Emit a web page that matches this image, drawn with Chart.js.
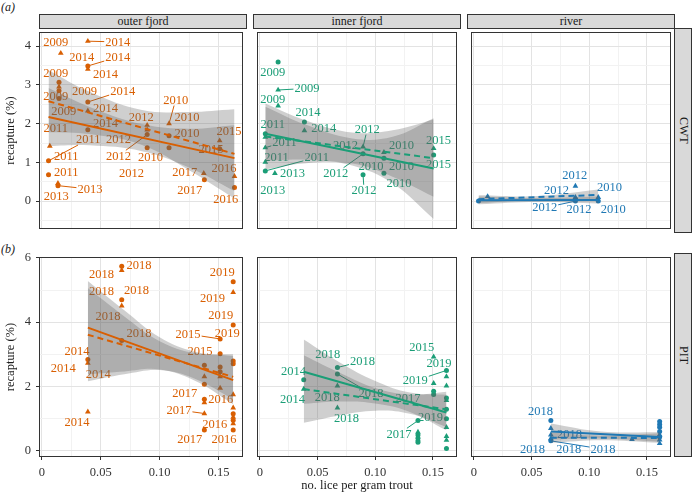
<!DOCTYPE html>
<html>
<head>
<meta charset="utf-8">
<title>recapture vs lice</title>
<script src="https://cdn.jsdelivr.net/npm/chart.js@4.4.0/dist/chart.umd.min.js"></script>
<style>
body { margin:0; background:#fff; width:695px; height:493px; position:relative; overflow:hidden; font-family:"Liberation Serif", serif; }
.cv { position:absolute; }
.strip { position:absolute; background:#d9d9d9; border:1px solid #333; box-sizing:border-box; font-size:12px; color:#1a1a1a;
         display:flex; align-items:center; justify-content:center; }
.vert { writing-mode:vertical-rl; }
.tag { position:absolute; font-size:12px; font-style:italic; color:#1a1a1a; }
</style>
</head>
<body>

<div class="tag" style="left:1px;top:0px">(<i>a</i>)</div>
<div class="tag" style="left:1px;top:242px">(<i>b</i>)</div>

<div class="strip" style="left:39px;top:14px;width:208px;height:15px">outer fjord</div>
<div class="strip" style="left:253px;top:14px;width:208px;height:15px">inner fjord</div>
<div class="strip" style="left:467px;top:14px;width:208px;height:15px">river</div>
<div class="strip" style="left:674px;top:28px;width:18px;height:205px"><span class="vert">CWT</span></div>
<div class="strip" style="left:674px;top:253px;width:18px;height:204px"><span class="vert">PIT</span></div>

<script>
// axis ticks
var xMajor = [0, 0.05, 0.10, 0.15];
var xTickLabels = ['0', '0.05', '0.10', '0.15'];
var xMinor = [0.025, 0.075, 0.125];
var yMajorCwt = [0, 1, 2, 3, 4];
var yMinorCwt = [-0.5, 0.5, 1.5, 2.5, 3.5];
var yMajorPit = [0, 2, 4, 6];
var yMinorPit = [1, 3, 5];

// ---- outer fjord, CWT ----
var outerCwtCircles = [[0.0056,1.04],[0.0056,0.68],[0.0145,3.07],[0.0145,2.85],[0.0145,2.65],[0.0136,0.40],
  [0.039,3.49],[0.039,2.56],[0.039,1.84],[0.0894,1.72],[0.0894,1.38],[0.108,1.69],[0.108,1.38],
  [0.138,0.55],[0.151,1.35],[0.1636,0.35]];
var outerCwtTriangles = [[0.0067,1.42],[0.016,3.82],[0.0145,2.95],[0.0136,0.46],[0.039,4.13],[0.039,3.41],
  [0.039,2.33],[0.0894,1.96],[0.0894,1.84],[0.108,2.0],[0.1375,0.72],[0.151,1.56],[0.1636,0.64]];
var outerCwtSolid = [[0.0056,2.17],[0.1636,1.11]];
var outerCwtDashed = [[0.0056,2.58],[0.1636,1.22]];
var outerCwtBandS = [[0.0056,1.42,2.92],[0.04,1.44,2.44],[0.085,1.29,1.99],[0.125,0.87,1.87],[0.1636,0.26,1.96]];
var outerCwtBandD = [[0.0056,1.78,3.38],[0.04,1.73,2.83],[0.085,1.45,2.35],[0.125,0.80,2.30],[0.1636,0.07,2.37]];
var outerCwtLabels = [
  ['2009',0.0117,4.11],['2014',0.0644,4.11,0.039,4.13],['2014',0.0339,3.72],['2014',0.0644,3.72,0.039,3.49],
  ['2014',0.054,3.28],['2009',0.0117,3.30],['2009',0.0361,2.85],['2014',0.0686,2.85,0.039,2.56],
  ['2009',0.0117,2.72],['2014',0.054,2.41],['2009',0.0186,2.33],['2014',0.054,2.0],['2011',0.0117,1.89],
  ['2012',0.0844,2.17],['2010',0.1136,2.61,0.108,2.0],['2010',0.1233,2.17],['2012',0.065,1.59],
  ['2011',0.0394,1.59,0.0056,1.04],['2010',0.1233,1.75],['2012',0.065,1.17,0.0894,1.72],['2010',0.0922,1.13],
  ['2011',0.0206,1.16],['2012',0.0761,0.72],['2011',0.0206,0.74],['2013',0.0408,0.31,0.0136,0.40],
  ['2013',0.0122,0.12],['2015',0.159,1.80],['2015',0.1436,1.33],['2017',0.1214,0.74],['2017',0.1256,0.28],
  ['2016',0.1547,0.86],['2016',0.1561,0.06]];

// ---- inner fjord, CWT ----
var innerCwtCircles = [[0.0158,3.59],[0.0047,1.74],[0.0047,0.78],[0.0386,2.04],[0.0894,1.22],[0.0894,0.68],
  [0.1075,1.11],[0.1075,0.72],[0.1506,1.19]];
var innerCwtTriangles = [[0.0158,2.87],[0.0158,2.46],[0.0047,1.65],[0.0047,1.38],[0.0047,1.01],[0.013,0.72],
  [0.0386,1.82],[0.0894,1.40],[0.1075,1.26],[0.1506,1.36]];
var innerCwtSolid = [[0.0047,1.74],[0.1506,0.84]];
var innerCwtDashed = [[0.0047,1.67],[0.1506,1.11]];
var innerCwtBandS = [[0.0047,1.04,2.44],[0.04,1.07,1.97],[0.08,0.92,1.62],[0.115,0.46,1.66],[0.1506,-0.46,2.14]];
var innerCwtBandD = [[0.0047,0.82,2.52],[0.04,0.98,2.08],[0.08,0.97,1.77],[0.115,0.63,1.83],[0.1506,0.11,2.11]];
var innerCwtLabels = [
  ['2009',0.0111,3.34],['2009',0.0408,2.91,0.0158,2.87],['2009',0.0111,2.64],['2014',0.0417,2.29],
  ['2011',0.0111,1.98],['2014',0.0553,1.88],['2012',0.0931,1.86,0.0894,1.40],['2011',0.0214,1.53,0.0047,1.38],
  ['2012',0.0742,1.45],['2010',0.1228,1.45],['2015',0.1547,1.57],['2011',0.0144,1.13],
  ['2011',0.0492,1.13,0.0047,0.78],['2010',0.0964,0.89],['2010',0.1228,0.89],['2015',0.1547,0.95],
  ['2013',0.0283,0.72],['2012',0.0658,0.72,0.0894,1.22],['2010',0.1206,0.47],['2013',0.0111,0.28],
  ['2012',0.0903,0.28,0.0894,0.68]];

// ---- river, CWT ----
var riverCwtCircles = [[0.004,0.0],[0.088,0.05],[0.088,0.0],[0.1078,0.0]];
var riverCwtTriangles = [[0.0119,0.12],[0.088,0.39],[0.088,0.10],[0.1078,0.10]];
var riverCwtSolid = [[0.004,0.02],[0.1078,0.03]];
var riverCwtDashed = [[0.004,0.05],[0.1078,0.16]];
var riverCwtBandS = [[0.004,-0.08,0.12],[0.055,-0.02,0.08],[0.1078,-0.06,0.12]];
var riverCwtBandD = [[0.004,-0.05,0.15],[0.055,0.03,0.13],[0.1078,0.02,0.30]];
var riverCwtLabels = [
  ['2012',0.0875,0.66],['2012',0.0717,0.28],['2010',0.1175,0.35],['2012',0.0614,-0.17,0.088,0.0],
  ['2012',0.0911,-0.21],['2010',0.1208,-0.21]];

// ---- outer fjord, PIT ----
var outerPitCircles = [[0.0678,5.74],[0.0678,4.70],[0.0678,3.43],[0.039,2.84],[0.138,2.66],[0.138,2.07],
  [0.138,1.60],[0.138,0.65],[0.1514,3.48],[0.1514,3.02],[0.1514,2.61],[0.1514,2.46],[0.1625,5.26],
  [0.1625,3.91],[0.1625,2.79],[0.1625,2.71],[0.1625,1.15],[0.1625,0.95],[0.1625,0.65]];
var outerPitTriangles = [[0.0678,5.61],[0.0678,4.51],[0.039,2.73],[0.039,1.21],[0.138,2.31],[0.138,1.50],
  [0.138,1.16],[0.1514,2.31],[0.1514,1.95],[0.1625,4.93],[0.1625,1.75],[0.1625,1.34],[0.1625,1.05],[0.1625,0.85]];
var outerPitSolid = [[0.039,3.83],[0.1625,2.20]];
var outerPitDashed = [[0.039,3.61],[0.1625,2.30]];
var outerPitBandS = [[0.039,2.38,5.28],[0.07,2.47,4.37],[0.1,2.53,3.53],[0.13,2.18,3.08],[0.1625,1.45,2.95]];
var outerPitBandD = [[0.039,2.16,5.06],[0.07,2.38,4.18],[0.1,2.51,3.41],[0.13,2.24,3.04],[0.1625,1.60,3.00]];
var outerPitLabels = [
  ['2018',0.0825,5.76],['2018',0.0506,5.48],['2018',0.0506,4.95],['2018',0.0803,4.98],['2019',0.1533,5.56],
  ['2019',0.145,4.75],['2019',0.1519,4.22],['2018',0.0561,4.19],['2018',0.0825,3.66],
  ['2015',0.1242,3.63,0.1514,3.48],['2019',0.1575,3.65],['2014',0.0297,3.09],['2015',0.1344,3.10],
  ['2014',0.0181,2.58],['2014',0.0478,2.39],['2017',0.1214,1.78],['2016',0.1519,1.62],
  ['2017',0.1164,1.27,0.138,1.16],['2014',0.0297,0.88],['2016',0.1469,0.83],['2017',0.1256,0.35],
  ['2016',0.1547,0.36]];

// ---- inner fjord, PIT ----
var innerPitCircles = [[0.038,2.21],[0.0672,2.59],[0.0672,2.39],[0.137,0.94],[0.137,0.49],[0.137,0.39],
  [0.137,0.27],[0.1506,1.85],[0.1506,1.75],[0.1617,2.50],[0.1617,1.64],[0.1617,1.29],[0.1617,1.00],[0.1617,0.07]];
var innerPitTriangles = [[0.038,1.92],[0.0672,2.02],[0.0672,1.34],[0.137,0.58],[0.137,0.35],[0.1506,2.92],
  [0.1506,2.10],[0.1617,2.31],[0.1617,2.02],[0.1617,1.57],[0.1617,0.73],[0.1617,0.45],[0.1617,0.33]];
var innerPitSolid = [[0.038,2.46],[0.1617,1.19]];
var innerPitDashed = [[0.038,1.92],[0.1617,1.29]];
var innerPitBandS = [[0.038,1.46,3.46],[0.07,1.53,2.73],[0.1,1.47,2.17],[0.13,1.21,1.81],[0.1617,0.64,1.74]];
var innerPitBandD = [[0.038,0.87,2.97],[0.07,1.11,2.41],[0.1,1.25,1.95],[0.13,1.15,1.75],[0.1617,0.74,1.84]];
var innerPitLabels = [
  ['2015',0.1403,3.22],['2019',0.1553,2.71],['2018',0.0589,3.0],['2018',0.0889,2.79,0.0672,2.59],
  ['2014',0.0292,2.49],['2018',0.0964,1.78,0.0672,2.39],['2019',0.1347,2.18,0.1617,2.50],
  ['2014',0.0283,1.6],['2018',0.0583,1.68],['2017',0.1283,1.65],['2019',0.1478,1.06],
  ['2018',0.075,1.02],['2017',0.1206,0.53,0.137,0.94]];

// ---- river, PIT ----
var riverPitCircles = [[0.0667,0.94],[0.0667,0.31],[0.161,0.91],[0.161,0.82],[0.161,0.73],[0.161,0.60],[0.161,0.43]];
var riverPitTriangles = [[0.0667,0.70],[0.0667,0.50],[0.0667,0.38],[0.137,0.36],[0.161,0.50],[0.161,0.34],[0.161,0.23]];
var riverPitSolid = [[0.0667,0.60],[0.161,0.43]];
var riverPitDashed = [[0.0667,0.41],[0.161,0.40]];
var riverPitBandS = [[0.0667,0.35,0.85],[0.11,0.38,0.60],[0.161,0.28,0.58]];
var riverPitBandD = [[0.0667,0.25,0.57],[0.11,0.33,0.47],[0.161,0.25,0.55]];
var riverPitLabels = [
  ['2018',0.0578,1.22],['2018',0.0828,0.53],['2018',0.0508,0.05],['2018',0.0822,0.05],
  ['2018',0.1119,0.05,0.0667,0.31]];

// styles and layout
var ORANGE = '#d95f02', GREEN = '#1b9e77', BLUE = '#1f78b4';
var BAND = 'rgba(95,95,95,0.3)';
var FONT = '"Liberation Serif", serif';
var panelLeft = [39, 253, 467], panelW = 208;
var rowTop = [28, 253], rowH = [205, 204];
var yAxisW = 39, xAxisH = 36;
var xMin = -0.0025, xMax = xMin + panelW / 1200;
var yRange = [[-0.72, 4.367], [-0.192, 6.027]];

Chart.defaults.font.family = FONT;

var panels = [
  {col:0,row:0,color:ORANGE,c:outerCwtCircles,t:outerCwtTriangles,s:outerCwtSolid,d:outerCwtDashed,bs:outerCwtBandS,bd:outerCwtBandD,lab:outerCwtLabels},
  {col:1,row:0,color:GREEN,c:innerCwtCircles,t:innerCwtTriangles,s:innerCwtSolid,d:innerCwtDashed,bs:innerCwtBandS,bd:innerCwtBandD,lab:innerCwtLabels},
  {col:2,row:0,color:BLUE,c:riverCwtCircles,t:riverCwtTriangles,s:riverCwtSolid,d:riverCwtDashed,bs:riverCwtBandS,bd:riverCwtBandD,lab:riverCwtLabels},
  {col:0,row:1,color:ORANGE,c:outerPitCircles,t:outerPitTriangles,s:outerPitSolid,d:outerPitDashed,bs:outerPitBandS,bd:outerPitBandD,lab:outerPitLabels},
  {col:1,row:1,color:GREEN,c:innerPitCircles,t:innerPitTriangles,s:innerPitSolid,d:innerPitDashed,bs:innerPitBandS,bd:innerPitBandD,lab:innerPitLabels},
  {col:2,row:1,color:BLUE,c:riverPitCircles,t:riverPitTriangles,s:riverPitSolid,d:riverPitDashed,bs:riverPitBandS,bd:riverPitBandD,lab:riverPitLabels}
];

function pts(arr) { return arr.map(function (r) { return {x: r[0], y: r[1]}; }); }
function bandPts(arr, k) { return arr.map(function (r) { return {x: r[0], y: r[k]}; }); }
function zeroPad(s) { s.paddingTop = 0; s.paddingBottom = 0; s.paddingLeft = 0; s.paddingRight = 0; }

// year labels go under the confidence bands, panel frame on top
function panelPlugin(p) {
  return {
    id: 'panel',
    beforeDatasetsDraw: function (chart) {
      var ctx = chart.ctx, ca = chart.chartArea, xs = chart.scales.x, ys = chart.scales.y;
      ctx.save();
      ctx.beginPath();
      ctx.rect(ca.left, ca.top, ca.right - ca.left, ca.bottom - ca.top);
      ctx.clip();
      ctx.font = '12.5px ' + FONT;
      ctx.textAlign = 'center';
      ctx.textBaseline = 'middle';
      ctx.fillStyle = p.color;
      ctx.strokeStyle = p.color;
      ctx.lineWidth = 1;
      p.lab.forEach(function (l) {
        var cx = xs.getPixelForValue(l[1]), cy = ys.getPixelForValue(l[2]);
        ctx.fillText(l[0], cx, cy + 0.5);
        if (l.length > 3) {
          var px = xs.getPixelForValue(l[3]), py = ys.getPixelForValue(l[4]);
          var hw = ctx.measureText(l[0]).width / 2 + 1, hh = 5.5;
          var dx = px - cx, dy = py - cy;
          var t = Math.min(dx ? hw / Math.abs(dx) : Infinity, dy ? hh / Math.abs(dy) : Infinity);
          if (t < 1) {
            ctx.beginPath();
            ctx.moveTo(cx + dx * t, cy + dy * t);
            ctx.lineTo(px, py);
            ctx.stroke();
          }
        }
      });
      ctx.restore();
    },
    afterDraw: function (chart) {
      var ctx = chart.ctx, ca = chart.chartArea;
      ctx.save();
      ctx.strokeStyle = '#333';
      ctx.lineWidth = 1;
      ctx.strokeRect(ca.left + 0.5, ca.top + 0.5, ca.right - ca.left - 1, ca.bottom - ca.top - 1);
      ctx.restore();
    }
  };
}

function makeChart(p) {
  var showY = p.col === 0, showX = p.row === 1;
  var yMajor = p.row === 0 ? yMajorCwt : yMajorPit;
  var yMinor = p.row === 0 ? yMinorCwt : yMinorPit;
  var cv = document.createElement('canvas');
  var w = showY ? panelLeft[0] + panelW : panelW;
  var h = rowH[p.row] + (showX ? xAxisH : 0);
  cv.width = w; cv.height = h;
  cv.className = 'cv';
  cv.style.left = (showY ? 0 : panelLeft[p.col]) + 'px';
  cv.style.top = rowTop[p.row] + 'px';
  document.body.appendChild(cv);

  var lineBase = {showLine: true, pointRadius: 0, borderWidth: 0, tension: 0.4, order: 2};
  var datasets = [
    Object.assign({data: bandPts(p.bs, 1), fill: false}, lineBase),
    Object.assign({data: bandPts(p.bs, 2), fill: '-1', backgroundColor: BAND}, lineBase),
    Object.assign({data: bandPts(p.bd, 1), fill: false}, lineBase),
    Object.assign({data: bandPts(p.bd, 2), fill: '-1', backgroundColor: BAND}, lineBase),
    {data: pts(p.c), showLine: false, pointStyle: 'circle', pointRadius: 2.5, pointBorderWidth: 0,
     pointBackgroundColor: p.color, pointBorderColor: p.color, order: 4},
    {data: pts(p.t), showLine: false, pointStyle: 'triangle', pointRadius: 3.3, pointBorderWidth: 0,
     pointBackgroundColor: p.color, pointBorderColor: p.color, order: 4},
    {data: pts(p.s), showLine: true, pointRadius: 0, borderColor: p.color, borderWidth: 2, order: 1},
    {data: pts(p.d), showLine: true, pointRadius: 0, borderColor: p.color, borderWidth: 2, borderDash: [6, 4], order: 1}
  ];

  function gridColor(major) {
    return function (c) {
      if (!c.tick) return 'rgba(0,0,0,0)';
      return major.indexOf(c.tick.value) >= 0 ? '#e3e3e3' : '#f2f2f2';
    };
  }
  function tickColor(major) {
    return function (c) {
      if (!c.tick) return 'rgba(0,0,0,0)';
      return major.indexOf(c.tick.value) >= 0 ? '#333' : 'rgba(0,0,0,0)';
    };
  }
  var tickFont = {family: FONT, size: 12.5};

  new Chart(cv, {
    type: 'line',
    data: {datasets: datasets},
    options: {
      responsive: false, animation: false, devicePixelRatio: 1, events: [],
      layout: {padding: 0},
      plugins: {legend: {display: false}, tooltip: {enabled: false}},
      scales: {
        x: {
          type: 'linear', min: xMin, max: xMax, bounds: 'data',
          afterBuildTicks: function (s) {
            s.ticks = xMajor.concat(xMinor).sort(function (a, b) { return a - b; }).map(function (v) { return {value: v}; });
          },
          afterFit: function (s) { s.height = showX ? xAxisH : 0; zeroPad(s); },
          ticks: {
            display: showX, autoSkip: false, maxRotation: 0, minRotation: 0, padding: 5, color: '#333',
            font: tickFont,
            callback: function (v) { var i = xMajor.indexOf(v); return i >= 0 ? xTickLabels[i] : ''; }
          },
          grid: {color: gridColor(xMajor), lineWidth: 1, drawTicks: showX, tickLength: 3, tickColor: tickColor(xMajor)},
          border: {display: false},
          title: {display: showX && p.col === 1, text: 'no. lice per gram trout', color: '#1a1a1a',
                  font: tickFont, padding: {top: 0, bottom: 0}}
        },
        y: {
          type: 'linear', min: yRange[p.row][0], max: yRange[p.row][1], bounds: 'data',
          afterBuildTicks: function (s) {
            s.ticks = yMajor.concat(yMinor).sort(function (a, b) { return a - b; }).map(function (v) { return {value: v}; });
          },
          afterFit: function (s) { s.width = showY ? yAxisW : 0; zeroPad(s); },
          ticks: {
            display: showY, autoSkip: false, padding: 5, color: '#333', font: tickFont,
            callback: function (v) { return yMajor.indexOf(v) >= 0 ? String(v) : ''; }
          },
          grid: {color: gridColor(yMajor), lineWidth: 1, drawTicks: showY, tickLength: 3, tickColor: tickColor(yMajor)},
          border: {display: false},
          title: {display: showY, text: 'recapture (%)', color: '#1a1a1a', font: tickFont, padding: {top: 3, bottom: 0}}
        }
      }
    },
    plugins: [panelPlugin(p)]
  });
}

panels.forEach(makeChart);
</script>
</body>
</html>
